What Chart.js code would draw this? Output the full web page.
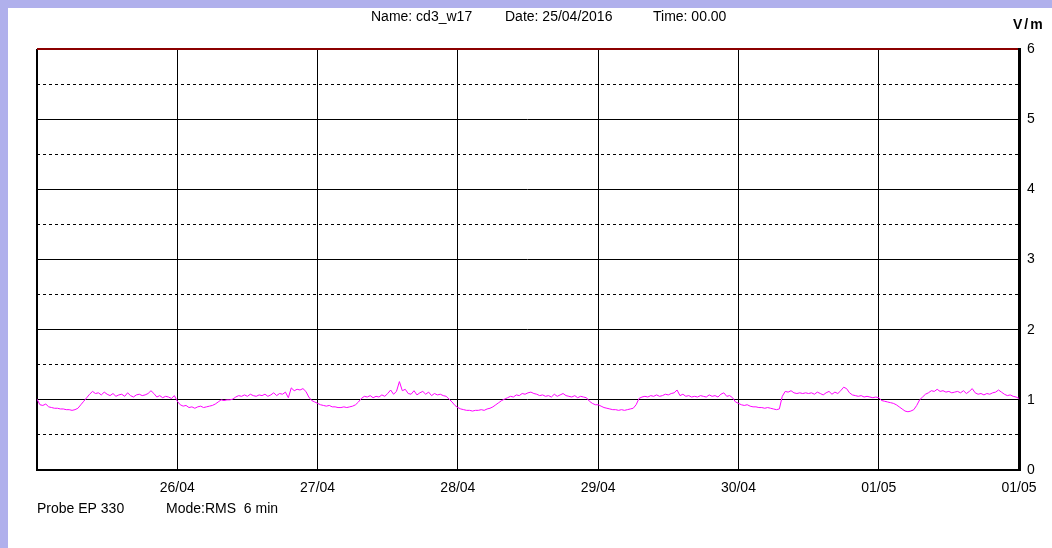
<!DOCTYPE html>
<html>
<head>
<meta charset="utf-8">
<script src="https://cdn.jsdelivr.net/npm/chart.js@4.4.1/dist/chart.umd.min.js"></script>
<style>
  html, body { margin: 0; padding: 0; background: #b0b0ec; width: 1052px; height: 548px; overflow: hidden; }
  #wrap { position: absolute; left: 8px; top: 8px; width: 1044px; height: 540px; background: #fff; }
</style>
</head>
<body>
<div id="wrap"><canvas id="chart" width="1044" height="540"></canvas></div>
<script>
// field strength V/m, one value every 30 min
var day1 = [1.01,0.93,0.92,0.94,0.90,0.89,0.88,0.88,0.87,0.87,0.86,0.86,0.85,0.86,0.88,0.93,0.98,1.03,1.08,1.12,1.09,1.10,1.07,1.11,
            1.08,1.06,1.09,1.05,1.07,1.08,1.05,1.10,1.06,1.04,1.07,1.08,1.06,1.07,1.09,1.13,1.09,1.04,1.06,1.03,1.05,1.04,1.02,1.06];
var day2 = [0.98,0.93,0.91,0.92,0.89,0.90,0.88,0.90,0.91,0.89,0.90,0.91,0.92,0.94,0.97,1.00,0.99,1.00,1.00,1.01,1.04,1.06,1.05,1.07,
            1.05,1.08,1.06,1.05,1.07,1.06,1.08,1.05,1.07,1.10,1.06,1.09,1.08,1.11,1.03,1.17,1.13,1.15,1.14,1.16,1.12,1.04,0.99,0.97];
var day3 = [0.95,0.93,0.92,0.91,0.92,0.90,0.90,0.89,0.89,0.90,0.89,0.90,0.91,0.93,0.97,1.02,1.05,1.04,1.06,1.03,1.05,1.04,1.07,1.05,
            1.09,1.14,1.08,1.12,1.26,1.13,1.15,1.09,1.08,1.13,1.07,1.10,1.12,1.08,1.11,1.06,1.09,1.07,1.08,1.06,1.05,1.01,0.97,0.92];
var day4 = [0.89,0.87,0.86,0.85,0.85,0.84,0.85,0.85,0.86,0.85,0.87,0.88,0.90,0.93,0.96,0.99,1.01,1.03,1.05,1.04,1.07,1.06,1.09,1.08,
            1.10,1.11,1.09,1.08,1.06,1.07,1.05,1.06,1.04,1.08,1.05,1.07,1.09,1.06,1.05,1.04,1.06,1.03,1.05,1.04,1.03,0.98,0.95,0.93];
var day5 = [0.93,0.91,0.89,0.88,0.87,0.86,0.86,0.85,0.86,0.85,0.86,0.87,0.88,0.93,1.02,1.04,1.05,1.04,1.06,1.05,1.07,1.05,1.06,1.08,
            1.07,1.09,1.10,1.14,1.06,1.08,1.05,1.06,1.04,1.05,1.04,1.06,1.05,1.04,1.07,1.05,1.06,1.04,1.08,1.10,1.05,1.06,1.03,0.97];
var day6 = [0.95,0.93,0.92,0.93,0.91,0.90,0.90,0.89,0.89,0.88,0.89,0.88,0.87,0.86,0.87,1.05,1.12,1.11,1.13,1.10,1.09,1.10,1.09,1.10,
            1.09,1.10,1.08,1.11,1.09,1.07,1.10,1.12,1.08,1.11,1.09,1.13,1.18,1.16,1.10,1.07,1.06,1.05,1.06,1.04,1.05,1.04,1.03,1.04];
var day7 = [1.03,0.99,0.98,0.97,0.96,0.95,0.93,0.90,0.87,0.84,0.83,0.84,0.86,0.92,1.00,1.04,1.08,1.10,1.13,1.12,1.15,1.12,1.13,1.11,
            1.12,1.10,1.11,1.12,1.10,1.13,1.09,1.12,1.16,1.10,1.08,1.09,1.07,1.09,1.08,1.10,1.11,1.14,1.11,1.08,1.06,1.07,1.05,1.04,1.02];

var stepHours = 0.5;
var dayLabels = ['', '26/04', '27/04', '28/04', '29/04', '30/04', '01/05', '01/05'];
var yMax = 6;

var values = [].concat(day1, day2, day3, day4, day5, day6, day7);
var points = values.map(function (v, i) { return { x: i * stepHours, y: v }; });

var fontName = '"Liberation Sans", Arial, sans-serif';

var headerText = {
    id: 'headerText',
    afterDraw: function (chart) {
        var ctx = chart.ctx;
        ctx.save();
        ctx.fillStyle = '#000';
        ctx.textBaseline = 'middle';
        ctx.textAlign = 'left';
        ctx.font = '14px ' + fontName;
        ctx.fillText('Name: cd3_w17', 363, 9);
        ctx.fillText('Date: 25/04/2016', 497, 9);
        ctx.fillText('Time: 00.00', 645, 9);
        ctx.fillText('Probe EP 330', 29, 501);
        ctx.fillText('Mode:RMS  6 min', 158, 501);
        ctx.font = 'bold 14px ' + fontName;
        ctx.letterSpacing = '2px';
        ctx.fillText('V/m', 1005, 17);
        ctx.restore();
    }
};

new Chart(document.getElementById('chart'), {
    type: 'line',
    data: {
        datasets: [{
            data: points,
            borderColor: '#ff00ff',
            borderWidth: 1,
            pointRadius: 0,
            tension: 0,
            fill: false
        }]
    },
    options: {
        responsive: false,
        animation: false,
        devicePixelRatio: 1,
        layout: { padding: { left: 29, top: 41, right: 0, bottom: 0 } },
        plugins: { legend: { display: false }, tooltip: { enabled: false } },
        scales: {
            x: {
                type: 'linear',
                min: 0,
                max: 168,
                afterFit: function (scale) { scale.height = 78; },
                ticks: {
                    stepSize: 24,
                    autoSkip: false,
                    maxRotation: 0,
                    padding: 10,
                    color: '#000',
                    font: { family: fontName, size: 14 },
                    callback: function (v, i) { return dayLabels[i]; }
                },
                grid: {
                    color: '#000',
                    lineWidth: function (c) { return c.tick && c.tick.value === 0 ? 2 : 1; },
                    drawTicks: false
                },
                border: { color: '#000', width: 2 }
            },
            y: {
                position: 'right',
                min: 0,
                max: yMax,
                afterFit: function (scale) { scale.width = 33; },
                ticks: {
                    stepSize: 0.5,
                    padding: 8,
                    color: '#000',
                    font: { family: fontName, size: 14 },
                    callback: function (v) { return v % 1 === 0 ? v : ''; }
                },
                grid: {
                    color: function (c) { return c.tick && c.tick.value === yMax ? '#8b0000' : '#000'; },
                    lineWidth: function (c) { return c.tick && c.tick.value === yMax ? 2 : 1; },
                    drawTicks: false
                },
                border: {
                    color: '#000',
                    width: 3,
                    dash: function (c) { return c.tick && c.tick.value % 1 !== 0 ? [3, 3] : []; }
                }
            }
        }
    },
    plugins: [headerText]
});
</script>
</body>
</html>
